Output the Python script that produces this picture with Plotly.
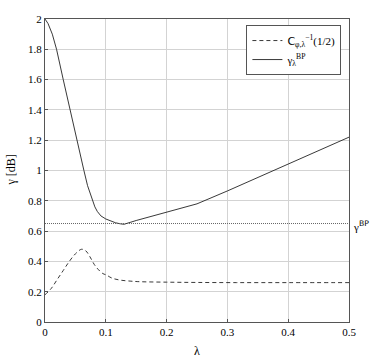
import plotly.graph_objects as go

# lambda grid and curves
lam_bp = [0.0, 0.005, 0.012, 0.019, 0.030, 0.041, 0.053, 0.064, 0.070, 0.077, 0.082, 0.086,
          0.092, 0.100, 0.108, 0.116, 0.124, 0.130, 0.150, 0.200, 0.250, 0.300, 0.400, 0.500]
gamma_bp = [2.0, 1.97, 1.90, 1.80, 1.60, 1.40, 1.18, 1.00, 0.90, 0.82, 0.76, 0.73,
            0.70, 0.68, 0.665, 0.655, 0.648, 0.645, 0.670, 0.725, 0.780, 0.865, 1.045, 1.220]

lam_c = [0.0, 0.010, 0.020, 0.030, 0.040, 0.050, 0.060, 0.067, 0.074, 0.081, 0.088,
         0.095, 0.101, 0.110, 0.123, 0.140, 0.156, 0.200, 0.250, 0.315, 0.400, 0.500]
c_inv = [0.18, 0.22, 0.28, 0.34, 0.40, 0.45, 0.48, 0.47, 0.43, 0.38, 0.345,
         0.32, 0.31, 0.29, 0.277, 0.27, 0.266, 0.263, 0.261, 0.260, 0.260, 0.260]

gamma_bp_level = 0.65
x_ticks = [0, 0.1, 0.2, 0.3, 0.4, 0.5]
y_ticks = [0, 0.2, 0.4, 0.6, 0.8, 1, 1.2, 1.4, 1.6, 1.8, 2]

font = "Liberation Serif"

fig = go.Figure()

fig.add_trace(go.Scatter(x=lam_c, y=c_inv, mode="lines", line_shape="spline",
                         line=dict(color="#222222", width=0.9, dash="4px,3px"),
                         name="<span style='font-family:DejaVu Sans'>C</span>"
                              "<sub>φ,λ</sub><sup>−1</sup>(1/2)"))
fig.add_trace(go.Scatter(x=lam_bp, y=gamma_bp, mode="lines",
                         line=dict(color="#222222", width=0.9),
                         name="γ<sub>λ</sub><sup>BP</sup>"))
fig.add_trace(go.Scatter(x=[0, 0.5], y=[gamma_bp_level] * 2, mode="lines",
                         line=dict(color="#666666", width=1, dash="1px,1px"),
                         showlegend=False))

fig.add_annotation(x=0.5, y=gamma_bp_level, xref="x", yref="y",
                   text="γ<sup><span style='font-family:DejaVu Sans'>BP</span></sup>",
                   showarrow=False, xanchor="left", xshift=2, yshift=-2,
                   font=dict(family=font, size=11, color="black"))
fig.add_annotation(x=0.25, y=0, xref="x", yref="paper", text="λ", showarrow=False,
                   yanchor="top", yshift=-20, font=dict(family=font, size=12, color="black"))
fig.add_annotation(x=0, y=0.5, xref="paper", yref="paper", text="γ [dB]", showarrow=False,
                   textangle=-90, xanchor="right", xshift=-26,
                   font=dict(family=font, size=12, color="black"))

axis_style = dict(showline=True, linecolor="#555555", linewidth=1, mirror=True,
                  showgrid=True, gridcolor="#d3d3d3", gridwidth=1, zeroline=False,
                  ticks="inside", ticklen=3, tickcolor="#555555", automargin=False,
                  tickfont=dict(family=font, size=11, color="black"))

fig.update_xaxes(range=[0, 0.5], tickvals=x_ticks, ticktext=[str(v) for v in x_ticks],
                 **axis_style)
fig.update_yaxes(range=[0, 2], tickvals=y_ticks, ticktext=[f"{v:g}" for v in y_ticks],
                 **axis_style)

fig.update_layout(
    width=374, height=358,
    margin=dict(l=45, r=25, t=19, b=36),
    plot_bgcolor="white", paper_bgcolor="white",
    font=dict(family=font, size=11, color="black"),
    legend=dict(x=0.975, y=0.98, xanchor="right", yanchor="top",
                bgcolor="white", bordercolor="#555555", borderwidth=1,
                font=dict(family=font, size=11), tracegroupgap=0),
)

# drop the default body margin so the figure sits at the window's corner
fig.write_html("out.html", config={"displayModeBar": False},
               post_script="document.body.style.margin='0';document.body.style.overflow='hidden';")
